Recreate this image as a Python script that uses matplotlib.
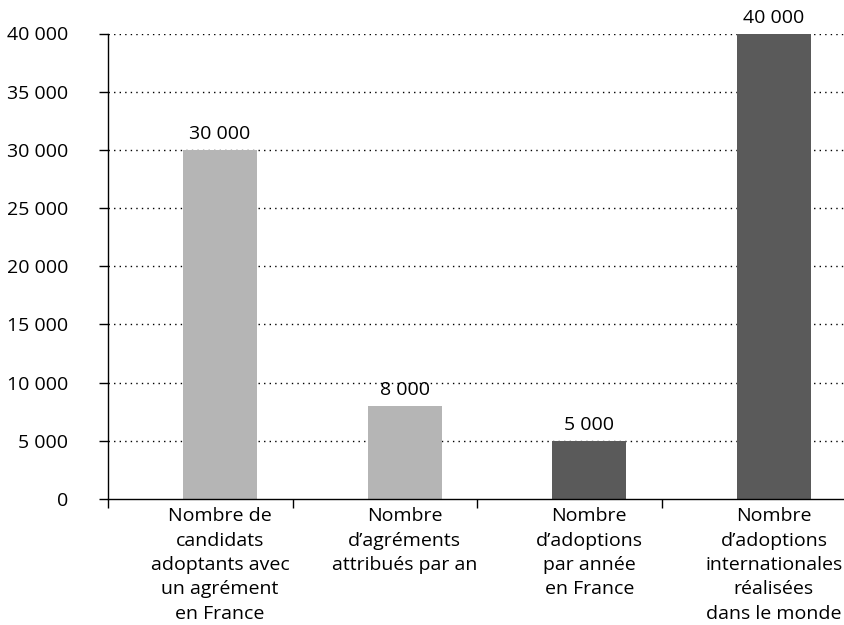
import matplotlib.pyplot as plt
import numpy as np

# data
categories = [
    "Nombre de\ncandidats\nadoptants avec\nun agrément\nen France",
    "Nombre\nd’agréments\nattribués par an",
    "Nombre\nd’adoptions\npar année\nen France",
    "Nombre\nd’adoptions\ninternationales\nréalisées\ndans le monde",
]
values = [30000, 8000, 5000, 40000]
bar_colors = ["#b5b5b5", "#b5b5b5", "#5a5a5a", "#5a5a5a"]
y_ticks = [0, 5000, 10000, 15000, 20000, 25000, 30000, 35000, 40000]


def fr_num(v):
    return f"{v:,}".replace(",", " ")


plt.rcParams['font.family'] = ['Open Sans', 'DejaVu Sans']
plt.rcParams['font.size'] = 14

fig = plt.figure(figsize=(8.44, 6.25), dpi=100)
ax = fig.add_axes([108 / 844, 1 - 499 / 625, 1 - 108 / 844, (499 - 33.5) / 625])

x = np.arange(len(values))
ax.bar(x, values, width=0.4, color=bar_colors, zorder=2)

for xi, v in zip(x, values):
    ax.text(xi, v + 600, fr_num(v), ha="center", va="bottom", fontsize=14, clip_on=False)

ax.set_ylim(0, 40000)
ax.set_xlim(-0.606, -0.606 + (844 - 108) / 184.67)

# dotted grid
for t in y_ticks[1:]:
    ax.axhline(t, color="black", lw=1.0, linestyle=(0, (1, 3)), zorder=1)

ax.set_yticks(y_ticks)
ax.set_yticklabels([fr_num(t) for t in y_ticks])
ax.tick_params(axis="y", length=6.5, width=1, pad=22, labelsize=14)

ax.set_xticks(x)
ax.set_xticklabels(categories, linespacing=1.45)
ax.tick_params(axis="x", length=0, pad=6, labelsize=14)
ax.set_xticks(np.arange(len(values)) - 0.606, minor=True)
ax.tick_params(axis="x", which="minor", length=6.5, width=1)

for side in ["top", "right"]:
    ax.spines[side].set_visible(False)
ax.spines["left"].set_linewidth(1)
ax.spines["bottom"].set_linewidth(1)

fig.savefig("out.png", dpi=100)
